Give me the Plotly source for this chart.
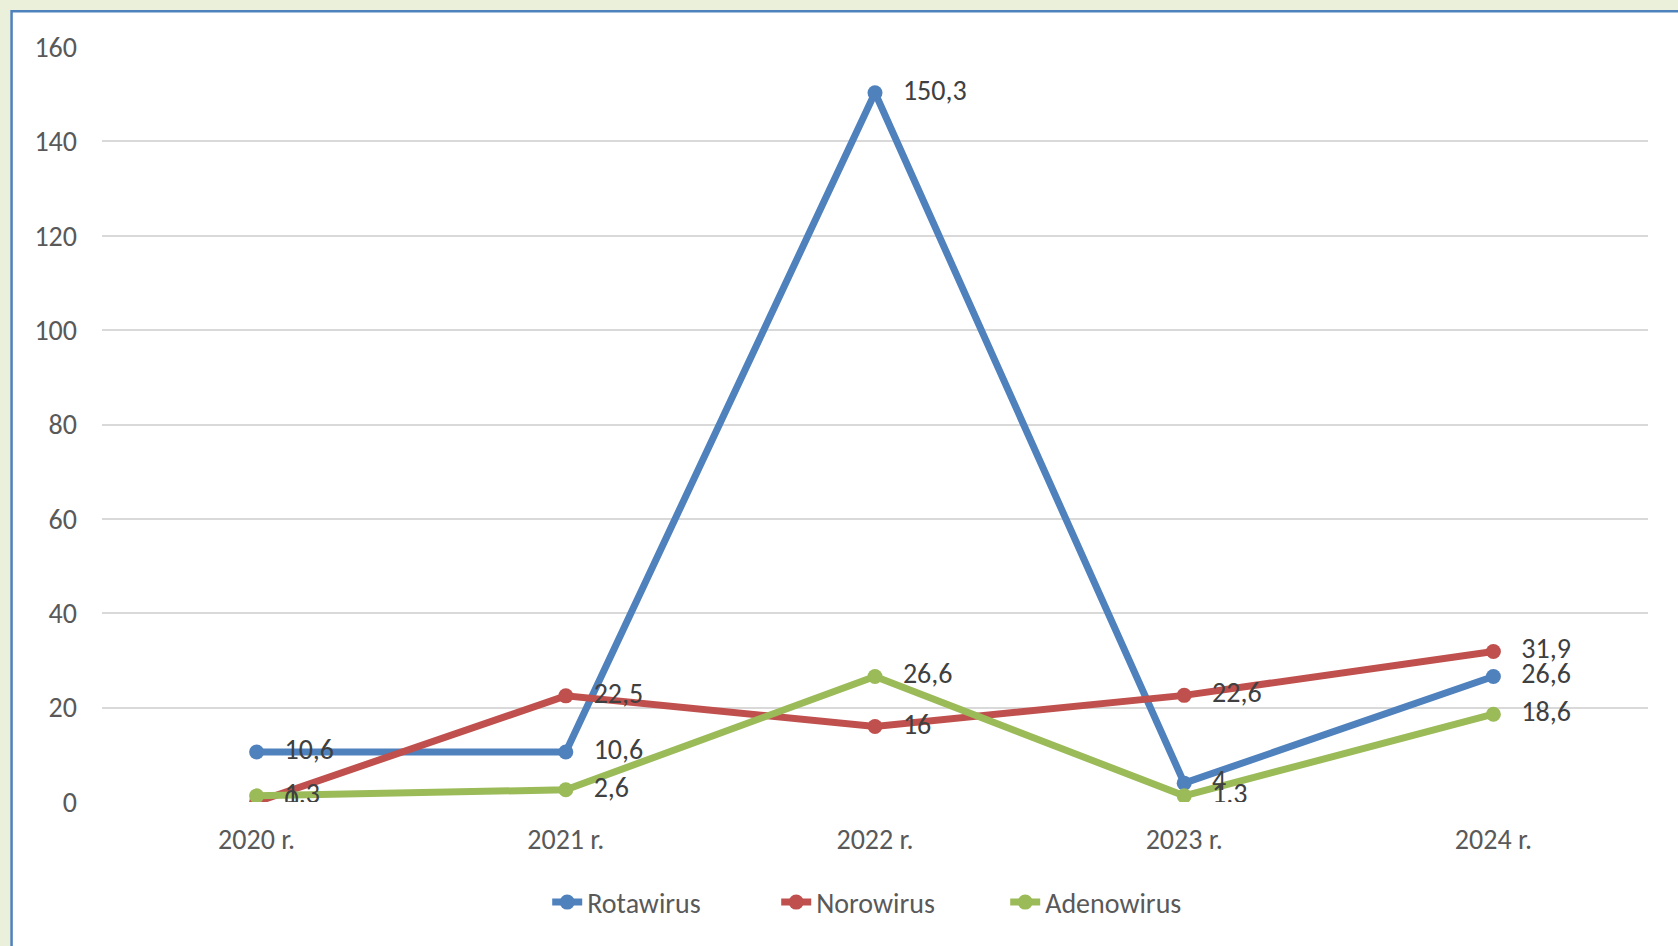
import plotly.graph_objects as go

categories = ["2020 r.", "2021 r.", "2022 r.", "2023 r.", "2024 r."]
rotawirus = [10.6, 10.6, 150.3, 4, 26.6]
norowirus = [0, 22.5, 16, 22.6, 31.9]
adenowirus = [1.3, 2.6, 26.6, 1.3, 18.6]
series_names = ["Rotawirus", "Norowirus", "Adenowirus"]
y_ticks = [0, 20, 40, 60, 80, 100, 120, 140, 160]

colors = ["#4F81BD", "#C0504D", "#9BBB59"]
FONT = "Calibri, Carlito, Lato, sans-serif"

W, H = 1678, 946
L, R, T, B = 101.5, 29.5, 46.7, 144.3
pw = W - L - R
ph = H - T - B


def fmt(v):
    return f"{v:g}".replace(".", ",")


fig = go.Figure()
all_series = [rotawirus, norowirus, adenowirus]
for name, vals, c in zip(series_names, all_series, colors):
    fig.add_trace(go.Scatter(
        x=categories, y=vals, name=name, mode="lines+markers",
        line=dict(color=c, width=7),
        marker=dict(color=c, size=15, symbol="circle"),
        hoverinfo="skip",
    ))
for name, vals, c in zip(series_names, all_series, colors):
    fig.add_trace(go.Scatter(
        x=categories, y=vals, mode="markers+text", showlegend=False,
        text=[fmt(v) for v in vals], textposition="middle right",
        textfont=dict(family=FONT, size=28, color="#404040"),
        marker=dict(size=43, color="rgba(0,0,0,0)"),
        hoverinfo="skip",
    ))

# chart frame (white box with blue border extending past the window)
x0 = (11 - L) / pw
x1 = (W + 40 - L) / pw
y1 = (H - B - 11) / ph
y0 = -(B + 40) / ph
fig.add_shape(type="rect", xref="paper", yref="paper", x0=x0, x1=x1, y0=y0, y1=y1,
              line=dict(color="#4F81BD", width=2.5), fillcolor="white", layer="below")

fig.update_layout(
    width=W, height=H, autosize=False,
    margin=dict(l=L, r=R, t=T, b=B, pad=0),
    paper_bgcolor="#EBF0DB",
    plot_bgcolor="rgba(0,0,0,0)",
    font=dict(family=FONT, size=28, color="#595959"),
    showlegend=True,
    legend=dict(orientation="h", x=(547 - L) / pw, xanchor="left", y=-0.133, yanchor="middle",
                font=dict(family=FONT, size=28, color="#595959"),
                bgcolor="rgba(0,0,0,0)", entrywidth=184, itemwidth=30),
    xaxis=dict(range=[-0.5, 4.5], showgrid=False, zeroline=False, showline=False,
               ticks="", ticklabelstandoff=18, fixedrange=True),
    yaxis=dict(range=[0, 160], tickvals=y_ticks, showgrid=True, gridcolor="#D9D9D9",
               gridwidth=2, zeroline=False, showline=False, ticks="",
               ticklabelstandoff=24, fixedrange=True),
)

fig.write_html("out.html", config={"displayModeBar": False},
               post_script="document.body.style.margin='0';document.body.style.padding='0';")
